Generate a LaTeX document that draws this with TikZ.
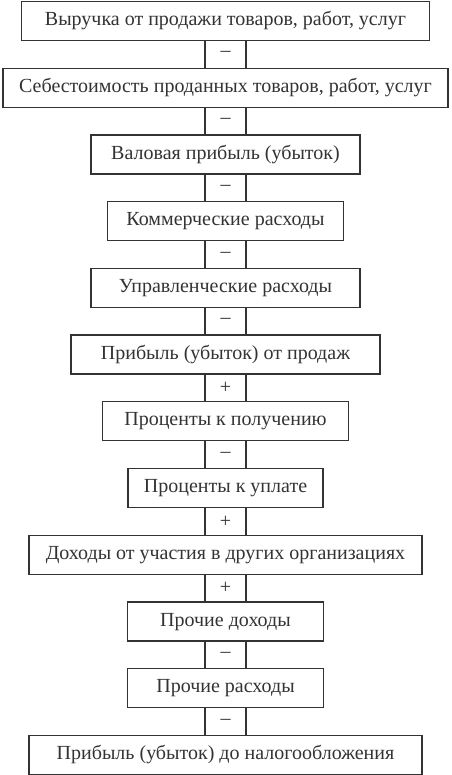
\documentclass[tikz,border=0pt]{standalone}
\usepackage{fontspec}
\setmainfont{Liberation Serif}
\usepackage{tikz}
\definecolor{chudo}{HTML}{333333}

\begin{document}
\begin{tikzpicture}[chudo,x=0.5pt,y=0.5pt,line width=0.6pt,
	hop/.style={draw,rectangle,minimum height=19.5pt,inner sep=0pt,font=\fontsize{10}{12}\selectfont},
	dau/.style={draw,rectangle,minimum width=20.5pt,minimum height=13.87pt,inner sep=0pt,font=\fontsize{10}{12}\selectfont}]
	\useasboundingbox (0,0) rectangle (451,775);
			\draw (225.5,754) node[hop,minimum width=204pt] (vyruchka) {Выручка от продажи товаров, работ, услуг};
			\draw (225.5,720.6) node[dau] (d1) {--};
			\draw (225.5,687.3) node[hop,minimum width=222.5pt] (sebest) {Себестоимость проданных товаров, работ, услуг};
			\draw (225.5,653.9) node[dau] (d2) {--};
			\draw (225.5,620.5) node[hop,minimum width=134.5pt] (valovaya) {Валовая прибыль (убыток)};
			\draw (225.5,587.2) node[dau] (d3) {--};
			\draw (225.5,553.8) node[hop,minimum width=118pt] (kommerch) {Коммерческие расходы};
			\draw (225.5,520.4) node[dau] (d4) {--};
			\draw (225.5,487.1) node[hop,minimum width=134.5pt] (upravl) {Управленческие расходы};
			\draw (225.5,453.7) node[dau] (d5) {--};
			\draw (225.5,420.4) node[hop,minimum width=154.5pt] (prodazh) {Прибыль (убыток) от продаж};
			\draw (225.5,387.0) node[dau] (d6) {+};
			\draw (225.5,353.6) node[hop,minimum width=123pt] (kpoluch) {Проценты к получению};
			\draw (225.5,320.3) node[dau] (d7) {--};
			\draw (225.5,286.9) node[hop,minimum width=97.5pt] (kuplate) {Проценты к уплате};
			\draw (225.5,253.5) node[dau] (d8) {+};
			\draw (225.5,220.2) node[hop,minimum width=196.5pt] (uchastie) {Доходы от участия в других организациях};
			\draw (225.5,186.8) node[dau] (d9) {+};
			\draw (225.5,153.4) node[hop,minimum width=98pt] (pdohody) {Прочие доходы};
			\draw (225.5,120.1) node[dau] (d10) {--};
			\draw (225.5,86.7) node[hop,minimum width=98pt] (prashody) {Прочие расходы};
			\draw (225.5,53.4) node[dau] (d11) {--};
			\draw (225.5,20.0) node[hop,minimum width=196.5pt] (donalog) {Прибыль (убыток) до налогообложения};
		\end{tikzpicture}
\end{document}
